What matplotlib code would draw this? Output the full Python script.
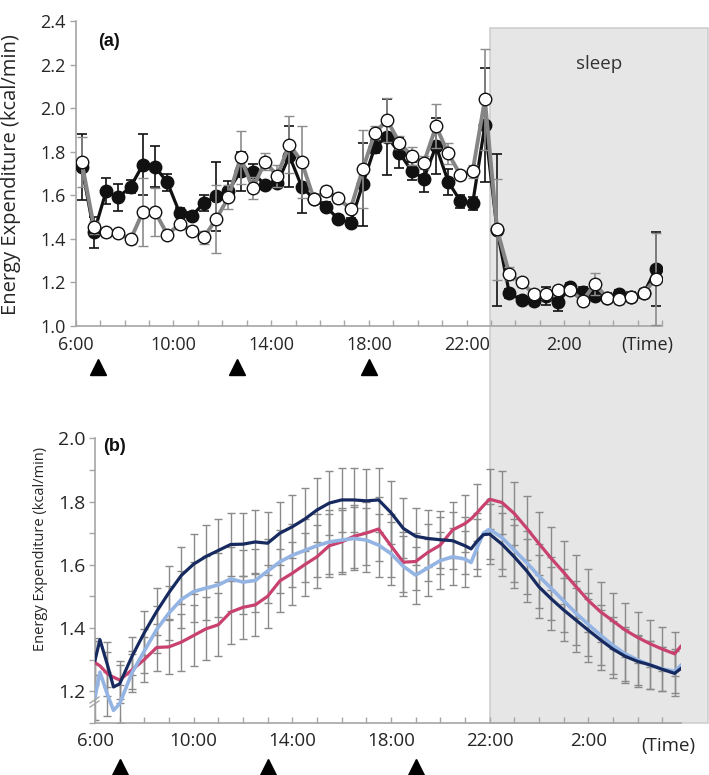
import numpy as np
import matplotlib
matplotlib.use("Agg")
import matplotlib.pyplot as plt
from matplotlib.patches import Rectangle
from matplotlib.lines import Line2D
from matplotlib.ticker import FixedLocator

plt.rcParams['font.family'] = ['Open Sans', 'DejaVu Sans']

# ---------------- Panel (a) data ----------------
hours_a = [6.25 + 0.5 * i for i in range(48)]
ee_black = [1.73, 1.43, 1.62, 1.59, 1.64, 1.74, 1.73, 1.66, 1.52, 1.505, 1.565, 1.595,
            1.62, 1.71, 1.705, 1.647, 1.657, 1.78, 1.64, 1.583, 1.547, 1.491, 1.474, 1.651,
            1.823, 1.869, 1.795, 1.712, 1.677, 1.826, 1.662, 1.573, 1.563, 1.922, 1.44, 1.15,
            1.119, 1.115, 1.138, 1.111, 1.177, 1.157, 1.138, 1.13, 1.145, 1.134, 1.15, 1.26]
ee_white = [1.751, 1.453, 1.43, 1.425, 1.398, 1.524, 1.524, 1.42, 1.467, 1.437, 1.407, 1.491,
            1.59, 1.774, 1.632, 1.754, 1.69, 1.833, 1.754, 1.583, 1.621, 1.586, 1.537, 1.72,
            1.887, 1.945, 1.841, 1.781, 1.749, 1.917, 1.792, 1.693, 1.711, 2.04, 1.443, 1.239,
            1.2, 1.147, 1.145, 1.165, 1.165, 1.116, 1.193, 1.13, 1.122, 1.134, 1.153, 1.216]
err_black = [0.15, 0.07, 0.06, 0.064, 0.03, 0.14, 0.094, 0.04, 0.02, 0.02, 0.035, 0.16,
             0.045, 0.09, 0.04, 0.02, 0.02, 0.14, 0.12, 0.02, 0.02, 0.02, 0.02, 0.19,
             0.03, 0.174, 0.07, 0.04, 0.06, 0.13, 0.06, 0.03, 0.03, 0.26, 0.35, 0.02,
             0.02, 0.02, 0.04, 0.04, 0.02, 0.02, 0.02, 0.02, 0.02, 0.02, 0.02, 0.17]
err_white = [0.115, 0.03, 0.02, 0.015, 0.02, 0.155, 0.11, 0.02, 0.02, 0.02, 0.03, 0.157,
             0.055, 0.12, 0.05, 0.04, 0.05, 0.13, 0.165, 0.02, 0.02, 0.02, 0.02, 0.18,
             0.03, 0.1, 0.03, 0.04, 0.03, 0.1, 0.05, 0.02, 0.03, 0.23, 0.23, 0.03,
             0.02, 0.02, 0.02, 0.02, 0.02, 0.02, 0.05, 0.02, 0.02, 0.02, 0.02, 0.21]
meals_a = [6.9, 12.6, 18.0]

# ---------------- Panel (b) data ----------------
hours_b = [6.0, 6.2, 6.5, 6.75, 7.0, 7.5, 8.0, 8.5, 9.0, 9.5, 10.0, 10.5, 11.0, 11.5, 12.0,
           12.5, 13.0, 13.5, 14.0, 14.5, 15.0, 15.5, 16.0, 16.5, 17.0, 17.5, 18.0, 18.5,
           19.0, 19.5, 20.0, 20.5, 21.0, 21.25, 21.5, 21.75, 22.0, 22.5, 23.0, 23.5, 24.0,
           24.5, 25.0, 25.5, 26.0, 26.5, 27.0, 27.5, 28.0, 28.5, 29.0, 29.5, 29.75]
ee_navy = [1.297, 1.363, 1.284, 1.213, 1.223, 1.31, 1.385, 1.452, 1.512, 1.566, 1.602, 1.626,
           1.645, 1.664, 1.665, 1.672, 1.668, 1.70, 1.72, 1.744, 1.773, 1.795, 1.805, 1.805,
           1.802, 1.805, 1.765, 1.715, 1.69, 1.683, 1.679, 1.676, 1.66, 1.65, 1.675, 1.695,
           1.697, 1.665, 1.625, 1.581, 1.53, 1.492, 1.457, 1.425, 1.393, 1.362, 1.333, 1.31,
           1.294, 1.283, 1.269, 1.256, 1.271]
ee_blue = [1.18, 1.26, 1.19, 1.139, 1.16, 1.258, 1.327, 1.395, 1.447, 1.49, 1.515, 1.526,
           1.536, 1.555, 1.545, 1.55, 1.58, 1.609, 1.63, 1.645, 1.66, 1.672, 1.678, 1.683,
           1.678, 1.662, 1.635, 1.595, 1.567, 1.59, 1.613, 1.625, 1.618, 1.607, 1.655, 1.70,
           1.712, 1.686, 1.646, 1.607, 1.564, 1.525, 1.486, 1.447, 1.411, 1.377, 1.345, 1.318,
           1.299, 1.283, 1.27, 1.263, 1.281]
ee_pink = [1.29, 1.28, 1.255, 1.244, 1.235, 1.267, 1.30, 1.338, 1.34, 1.355, 1.376, 1.397,
           1.41, 1.45, 1.465, 1.473, 1.50, 1.549, 1.573, 1.60, 1.625, 1.66, 1.672, 1.69,
           1.70, 1.713, 1.66, 1.608, 1.61, 1.639, 1.662, 1.71, 1.73, 1.745, 1.765, 1.787,
           1.807, 1.797, 1.762, 1.716, 1.667, 1.62, 1.576, 1.531, 1.487, 1.451, 1.422, 1.393,
           1.37, 1.35, 1.333, 1.318, 1.341]
err_hours_b = [6.0 + 0.5 * i for i in range(48)]
err_b = [0.07, 0.07, 0.06, 0.06, 0.07, 0.075, 0.085, 0.09, 0.095, 0.1, 0.1, 0.1,
         0.1, 0.1, 0.1, 0.1, 0.1, 0.1, 0.1, 0.1, 0.1, 0.1, 0.1, 0.1,
         0.1, 0.095, 0.09, 0.09, 0.09, 0.09, 0.09, 0.09, 0.095, 0.1, 0.1, 0.1,
         0.1, 0.1, 0.1, 0.1, 0.1, 0.095, 0.09, 0.085, 0.08, 0.075, 0.07, 0.07]
meals_b = [7.0, 13.0, 19.0]

tick_hours = [6, 10, 14, 18, 22, 26]
tick_labels = ['6:00', '10:00', '14:00', '18:00', '22:00', '2:00']

W, H = 709, 775
fig = plt.figure(figsize=(W / 100, H / 100), dpi=100)

# sleep shading spanning both panels
rect = Rectangle((490 / W, 1 - 722.7 / H), (708 - 490) / W, (722.7 - 28.3) / H,
                 transform=fig.transFigure, facecolor='#e6e6e6', edgecolor='#cfcfcf',
                 lw=1.2, zorder=-1)
fig.patches.append(rect)
fig.text(599 / W, 1 - 64 / H, 'sleep', ha='center', va='center', fontsize=13.5, color='#333333')

spine_c = '#a6a6a6'
txt_c = '#262626'

def style(ax):
    for s in ['top', 'right']:
        ax.spines[s].set_visible(False)
    for s in ['left', 'bottom']:
        ax.spines[s].set_color(spine_c)
        ax.spines[s].set_linewidth(1.2)
    ax.set_facecolor('none')
    ax.tick_params(axis='x', which='both', direction='in', color=spine_c, length=4.5,
                   width=1.0, labelsize=13, labelcolor=txt_c, pad=7)
    ax.tick_params(axis='y', which='both', direction='out', color=spine_c, length=4,
                   width=1.0, labelsize=13, labelcolor=txt_c, pad=3)

# ---------------- Panel (a) ----------------
axA = fig.add_axes([75.7 / W, 1 - 326 / H, (662 - 75.7) / W, (326 - 21) / H])
style(axA)
axA.errorbar(hours_a, ee_black, yerr=err_black, color='#111111', lw=2.3, marker='o', ms=9,
             mfc='#111111', mec='#111111', ecolor='#111111', elinewidth=1.2, capsize=3.5,
             capthick=1.2, zorder=3)
axA.errorbar(hours_a, ee_white, yerr=err_white, color='#858585', lw=2.8, marker='o', ms=9,
             mfc='white', mec='#111111', mew=1.0, ecolor='#8c8c8c', elinewidth=1.2, capsize=3.5,
             capthick=1.2, zorder=4)
axA.set_xlim(6, 30)
axA.set_ylim(1.0, 2.4)
axA.set_yticks(np.arange(1.0, 2.41, 0.2))
axA.set_yticklabels([f'{v:.1f}' for v in np.arange(1.0, 2.41, 0.2)])
axA.set_xticks(tick_hours)
axA.set_xticklabels(tick_labels)
axA.xaxis.set_minor_locator(FixedLocator(list(range(7, 31))))
axA.text(29.4, -(345 - 326) / 305, '(Time)', transform=axA.get_xaxis_transform(),
         ha='center', va='center', fontsize=13, color=txt_c)
axA.plot(meals_a, [-(366.7 - 326) / 305] * 3, transform=axA.get_xaxis_transform(),
         ls='none', marker='^', ms=11, color='black', clip_on=False)
axA.text(108.5 / W, 1 - 41.5 / H, '(a)', transform=fig.transFigure, ha='center', va='center',
         fontsize=13, fontweight='bold', family=['Liberation Sans', 'DejaVu Sans'], color='#111111')
fig.text(11 / W, 1 - 175 / H, 'Energy Expenditure (kcal/min)', rotation=90, ha='center',
         va='center', fontsize=14.5, color=txt_c)

# ---------------- Panel (b) ----------------
axB = fig.add_axes([95 / W, 1 - 722.7 / H, (680.7 - 95) / W, (722.7 - 438.3) / H])
style(axB)
hb = np.array(hours_b)
mask = np.isin(hb, err_hours_b)
for vals in (ee_pink, ee_blue, ee_navy):
    v = np.array(vals)
    axB.errorbar(hb[mask], v[mask], yerr=err_b, fmt='none', ecolor='#8a8a8a', elinewidth=1.0,
                 capsize=3, capthick=1.0, zorder=2)
axB.plot(hours_b, ee_pink, color='#c8416f', lw=2.3, zorder=3)
axB.plot(hours_b, ee_blue, color='#94b4e4', lw=2.6, zorder=4)
axB.plot(hours_b, ee_navy, color='#172a60', lw=2.3, zorder=5)
axB.set_xlim(6, 29.75)
axB.set_ylim(1.1, 2.0)
axB.set_yticks(np.arange(1.2, 2.01, 0.2))
axB.set_yticklabels([f'{v:.1f}' for v in np.arange(1.2, 2.01, 0.2)])
axB.yaxis.set_minor_locator(FixedLocator([1.1, 1.3, 1.5, 1.7, 1.9]))
axB.set_xticks(tick_hours)
axB.set_xticklabels(tick_labels)
axB.xaxis.set_minor_locator(FixedLocator(list(range(7, 30))))
axB.tick_params(axis='y', labelsize=14)
axB.tick_params(axis='x', labelsize=13.5)
axB.text(29.24, -(746 - 722.7) / 284.4, '(Time)', transform=axB.get_xaxis_transform(),
         ha='center', va='center', fontsize=13.5, color=txt_c)
axB.plot(meals_b, [-(766.7 - 722.7) / 284.4] * 3, transform=axB.get_xaxis_transform(),
         ls='none', marker='^', ms=11, color='black', clip_on=False)
axB.text(115 / W, 1 - 446.5 / H, '(b)', transform=fig.transFigure, ha='center', va='center',
         fontsize=13, fontweight='bold', family=['Liberation Sans', 'DejaVu Sans'], color='#111111')
fig.text(41 / W, 1 - 548.5 / H, 'Energy Expenditure (kcal/min)', rotation=90, ha='center',
         va='center', fontsize=10.5, color=txt_c)

# axis break mark on panel (b) y-axis
for dy in (0, 4):
    fig.lines.append(Line2D([90 / W, 99 / W], [1 - (703 + dy) / H, 1 - (697 + dy) / H],
                            transform=fig.transFigure, color=spine_c, lw=1.0))

fig.savefig('out.png', dpi=100)
